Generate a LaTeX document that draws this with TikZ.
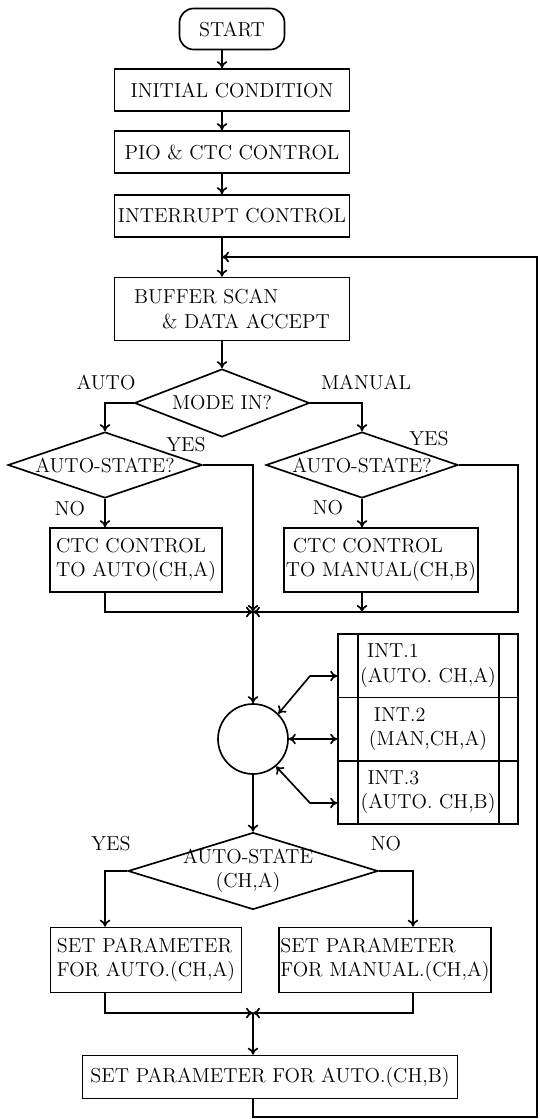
\documentclass[tikz,border=0pt]{standalone}
\usepackage{tikz}
\usetikzlibrary{shapes,arrows,arrows.meta,calc,positioning}

\tikzset{
	every node/.style={font=\fontsize{11.5}{14}\selectfont},
	box/.style={draw, rectangle, minimum width=4.7cm, minimum height=0.84cm, inner xsep=1pt, inner ysep=2pt},
	twoline/.style={box, align=left},
	dec/.style={draw, diamond, inner sep=0pt},
	tag/.style={inner sep=1pt},
}

\begin{document}
\begin{tikzpicture}[x=0.02cm, y=-0.02cm, line width=0.95pt, >={Computer Modern Rightarrow[length=4pt,width=6pt]}]
	\useasboundingbox (0,0) rectangle (539,1119);
	%
	% main column
	\node[box, rounded corners=0.28cm, minimum width=2.1cm, minimum height=0.82cm] (start) at (232,29) {START};
	\node[box] (init) at (232,90) {INITIAL CONDITION};
	\node[box] (pio) at (232,152) {PIO \& CTC CONTROL};
	\node[box] (intr) at (232,216) {INTERRUPT CONTROL};
	\node[twoline, minimum height=1.26cm] (buf) at (232,309) {BUFFER SCAN\\\hspace{0.56cm}\& DATA ACCEPT};
	
	% mode select
	\node[dec, minimum width=3.5cm, minimum height=1.36cm, label=center:{MODE IN?}] (mode) at (222,403) {};
	\node[dec, minimum width=3.88cm, minimum height=1.32cm, label=center:{AUTO-STATE?}] (sta) at (105,465) {};
	\node[dec, minimum width=3.84cm, minimum height=1.32cm, label=center:{AUTO-STATE?}] (stm) at (362,465) {};
	\node[twoline, minimum width=3.44cm, minimum height=1.28cm] (ctca) at (136,560) {CTC CONTROL\\TO AUTO(CH,A)};
	\node[twoline, minimum width=3.84cm, minimum height=1.28cm] (ctcm) at (381,560) {\hspace{0.14cm}CTC CONTROL\\TO MANUAL(CH,B)};
	
	% wait loop and interrupt table
	\node[draw, circle, minimum size=1.4cm] (hub) at (253,739) {};
	\node[twoline, minimum width=3.6cm, minimum height=1.267cm] (int1) at (428,665.7) {\hspace{0.14cm}INT.1\\(AUTO. CH,A)};
	\node[twoline, minimum width=3.6cm, minimum height=1.267cm] (int2) at (428,729) {\hspace{0.1cm}INT.2\\(MAN,CH,A)};
	\node[twoline, minimum width=3.6cm, minimum height=1.267cm] (int3) at (428,792.3) {\hspace{0.14cm}INT.3\\(AUTO. CH,B)};
	\draw ([xshift=0.42cm]int1.north west) -- ([xshift=0.42cm]int3.south west);
	\draw ([xshift=-0.4cm]int1.north east) -- ([xshift=-0.4cm]int3.south east);
	
	% parameters
	\node[dec, minimum width=5cm, minimum height=1.54cm, label={[align=center, xshift=-0.1cm]center:{AUTO-STATE\\(CH,A)}}] (stc) at (253,871) {};
	\node[twoline, minimum width=3.82cm, minimum height=1.3cm] (seta) at (146,960) {SET PARAMETER\\FOR AUTO.(CH,A)};
	\node[twoline, minimum width=4.06cm, minimum height=1.3cm] (setm) at (385,960) {SET PARAMETER\\FOR MANUAL.(CH,A)};
	\node[box, minimum width=7.5cm, minimum height=0.86cm] (setb) at (270,1077) {SET PARAMETER FOR AUTO.(CH,B)};
	
	% branch tags
	\node[tag] (tauto) at (106,382) {AUTO};
	\node[tag] (tman) at (366,382) {MANUAL};
	\node[tag] (tyesa) at (186,445) {YES};
	\node[tag] (tyesm) at (429,439) {YES};
	\node[tag] (tnoa) at (70,509) {NO};
	\node[tag] (tnom) at (328,508) {NO};
	\node[tag] (tyesc) at (111,844) {YES};
	\node[tag] (tnoc) at (386,844) {NO};
	
	% helper points
	\coordinate (sp) at (222,0);
	\coordinate (jn) at (253,612);
	\coordinate (mr) at (518,612);
	\coordinate (ina) at (105,0);
	\coordinate (inm) at (413,0);
	\coordinate (jn2) at (253,1013);
	\coordinate (b1) at (310,676);
	\coordinate (b3) at (310,803);
	\coordinate (lb) at (253,1117);
	\coordinate (lr) at (537,1117);
	\coordinate (lt) at (537,257);
	\coordinate (lj) at (222,257);
	
	% connectors
	\draw[->] (start.south -| sp) -- (init.north -| sp);
	\draw[->] (init.south -| sp) -- (pio.north -| sp);
	\draw[->] (pio.south -| sp) -- (intr.north -| sp);
	\draw[->] (intr.south -| sp) -- (buf.north -| sp);
	\draw[->] (buf.south -| sp) -- (mode.north);
	\draw[->] (mode.west) -| (sta.north);
	\draw[->] (mode.east) -| (stm.north);
	\draw[->] (sta.east) -| (jn);
	\draw[->] (sta.south) -- (sta.south |- ctca.north);
	\draw[->] (ctca.south -| sta.south) |- (jn);
	\draw[->] (stm.south) -- (stm.south |- ctcm.north);
	\draw[->] (ctcm.south -| stm.south) -- (stm.south |- jn);
	\draw[->] (stm.east) -| (mr) -- (jn);
	\draw[->] (jn) -- (hub.north);
	\draw[<->] (hub.45) -- (b1) -- (b1 -| int1.west);
	\draw[<->] (hub.east) -- (hub.east -| int2.west);
	\draw[<->] (hub.-50) -- (b3) -- (b3 -| int3.west);
	\draw[->] (hub.south) -- (stc.north);
	\draw[->] (stc.west) -| (ina |- seta.north);
	\draw[->] (stc.east) -| (inm |- setm.north);
	\draw[->] (ina |- seta.south) |- (jn2);
	\draw[->] (inm |- setm.south) |- (jn2);
	\draw[->] (jn2) -- (jn2 |- setb.north);
	% back to the scan
	\draw[->] (jn2 |- setb.south) -- (lb) -- (lr) -- (lt) -- (lj);
\end{tikzpicture}
\end{document}
